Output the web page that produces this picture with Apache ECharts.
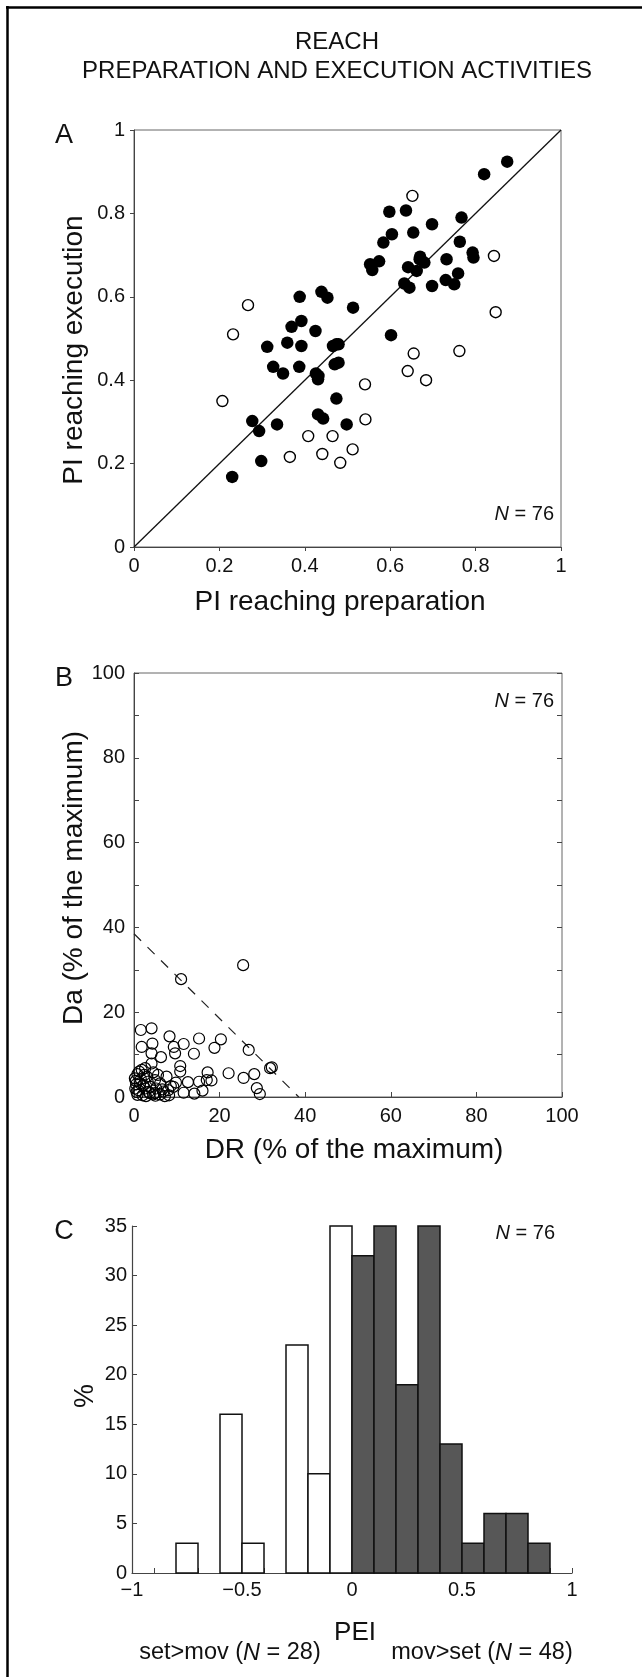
<!DOCTYPE html>
<html>
<head>
<meta charset="utf-8">
<script src="https://cdn.jsdelivr.net/npm/echarts@6.0.0/dist/echarts.min.js"></script>
<style>
html,body{margin:0;padding:0;background:#fff;}
#chart{width:642px;height:1677px;}
</style>
</head>
<body>
<div id="chart"></div>
<script>
// ---------- Panel A data (PI reaching preparation vs execution) ----------
const prepFilled = [0.874,0.820,0.598,0.637,0.604,0.654,0.698,0.767,0.584,0.763,0.553,0.558,0.574,0.670,0.680,0.642,0.662,0.732,0.793,0.795,0.759,0.730,0.750,0.633,0.645,0.698,0.388,0.439,0.453,0.513,0.369,0.392,0.425,0.312,0.359,0.392,0.466,0.479,0.602,0.326,0.349,0.387,0.470,0.479,0.426,0.431,0.474,0.431,0.443,0.498,0.335,0.277,0.293,0.298,0.230,0.432,0.474,0.669];
const execFilled = [0.924,0.894,0.804,0.807,0.750,0.754,0.774,0.790,0.730,0.732,0.678,0.664,0.685,0.696,0.682,0.671,0.662,0.690,0.706,0.694,0.656,0.640,0.630,0.632,0.622,0.626,0.600,0.612,0.598,0.574,0.528,0.542,0.518,0.480,0.490,0.482,0.482,0.486,0.508,0.432,0.416,0.432,0.438,0.442,0.416,0.402,0.356,0.318,0.308,0.294,0.294,0.302,0.278,0.206,0.168,0.410,0.486,0.690];
const prepOpen = [0.652,0.843,0.847,0.267,0.232,0.655,0.762,0.641,0.684,0.541,0.207,0.542,0.408,0.465,0.512,0.365,0.441,0.483];
const execOpen = [0.842,0.698,0.563,0.580,0.510,0.464,0.470,0.422,0.400,0.390,0.350,0.306,0.266,0.266,0.234,0.216,0.223,0.202];

// ---------- Panel B data (DR vs Da, % of the maximum) ----------
const drValues = [1.6,4.1,1.8,4.3,4.1,8.3,9.3,9.6,11.6,6.3,15.2,14.0,18.8,20.3,26.8,32.2,31.8,11.0,25.5,4.1,10.8,10.8,17.2,22.1,25.6,28.1,28.7,29.4,17.0,18.1,15.2,12.6,11.6,14.1,16.0,7.6,8.6,8.0,6.1,7.2,4.9,
  0.2,0.5,0.3,0.8,1.2,1.8,2.4,3.0,1.4,2.6,3.7,0.6,4.9,6.1,6.9,9.2,4.5,2.0,3.2,1.0,2.2,3.8,5.2,5.6,3.4,1.6,0.4,2.8,8.2,6.6,5.0,4.5,2.6,9.8,0.8];
const daValues = [15.8,16.2,11.8,12.6,10.3,14.3,11.8,10.3,12.5,9.4,13.8,10.2,11.6,13.6,11.1,7.0,6.8,27.8,31.1,7.9,7.3,6.0,5.8,5.6,4.5,5.4,2.1,0.7,4.0,3.9,3.6,3.5,1.0,0.8,1.5,4.8,2.6,1.6,0.6,0.2,0.9,
  4.4,3.0,2.0,5.4,6.0,6.4,5.2,4.8,3.2,2.0,0.9,1.2,4.0,3.2,1.3,2.4,0.6,0.4,3.6,1.6,2.8,2.4,2.0,5.2,1.2,4.2,3.8,0.2,0.4,1.8,0.3,5.8,6.8,3.4,0.5];
const dashedLimit = 38.5; // DR + Da = limit line

// ---------- Panel C data (PEI histogram, %) ----------
const peiBinStart = [-0.8,-0.6,-0.5,-0.3,-0.2,-0.1,0.0,0.1,0.2,0.3,0.4,0.5,0.6,0.7,0.8];
const peiPercent  = [3,16,3,23,10,35,32,35,19,35,13,3,6,6,3];
const binWidth = 0.1;

// ---------- styling ----------
const FONT = '"Liberation Sans", Arial, Helvetica, sans-serif';
const INK = '#111';
const AXC = '#444';

const histData = peiBinStart.map((s, i) => [s, s + binWidth, peiPercent[i]]);

function txt(x, y, text, size, opts) {
  opts = opts || {};
  return {
    type: 'text', x: x, y: y, rotation: opts.rotation || 0, silent: true,
    style: {
      text: text, fontSize: size, fontFamily: FONT, fill: INK,
      align: opts.align || 'center', verticalAlign: 'middle',
      textAlign: opts.align || 'center', textVerticalAlign: 'middle'
    }
  };
}
function richText(x, y, text, size, align) {
  return {
    type: 'text', x: x, y: y, silent: true,
    style: {
      text: text, fontSize: size, fontFamily: FONT, fill: INK,
      align: align || 'right', verticalAlign: 'middle',
      textAlign: align || 'right', textVerticalAlign: 'middle',
      rich: {
        i: { fontStyle: 'italic', fontSize: size, fontFamily: FONT, fill: INK },
        r: { fontSize: size, fontFamily: FONT, fill: INK }
      }
    }
  };
}

const axisLabelStyle = { fontSize: 20, fontFamily: FONT, color: INK };

const chart = echarts.init(document.getElementById('chart'), null, { renderer: 'canvas' });
chart.setOption({
  animation: false,
  backgroundColor: '#fff',
  grid: [
    { left: 134, top: 130, width: 427, height: 417, show: true, borderColor: '#666', borderWidth: 1, outerBoundsMode: 'none' },
    { left: 134, top: 673, width: 428, height: 424, show: true, borderColor: '#666', borderWidth: 1, outerBoundsMode: 'none' },
    { left: 132, top: 1226, width: 440, height: 347, show: false, outerBoundsMode: 'none' }
  ],
  xAxis: [
    { gridIndex: 0, type: 'value', min: 0, max: 1, interval: 0.2,
      axisLine: { lineStyle: { color: AXC, width: 1 } },
      axisTick: { inside: false, length: 4, lineStyle: { color: AXC } },
      splitLine: { show: false },
      axisLabel: Object.assign({ margin: 9, formatter: v => String(+v.toFixed(1)) }, axisLabelStyle) },
    { gridIndex: 1, type: 'value', min: 0, max: 100, interval: 20,
      axisLine: { lineStyle: { color: AXC, width: 1 } },
      axisTick: { inside: true, length: 5, lineStyle: { color: AXC } },
      splitLine: { show: false },
      axisLabel: Object.assign({ margin: 9 }, axisLabelStyle) },
    { gridIndex: 2, type: 'value', min: -1, max: 1, interval: 0.5,
      axisLine: { onZero: false, lineStyle: { color: AXC, width: 1.2 } },
      axisTick: { inside: true, length: 5, lineStyle: { color: AXC } },
      minorTick: { show: true, splitNumber: 5, length: 5, lineStyle: { color: AXC } },
      splitLine: { show: false },
      axisLabel: Object.assign({ margin: 7, formatter: v => {
        const r = Math.round(v * 10) / 10;
        return r < 0 ? '\u2212' + String(-r) : String(r);
      } }, axisLabelStyle) }
  ],
  yAxis: [
    { gridIndex: 0, type: 'value', min: 0, max: 1, interval: 0.2,
      axisLine: { lineStyle: { color: AXC, width: 1 } },
      axisTick: { inside: false, length: 4, lineStyle: { color: AXC } },
      splitLine: { show: false },
      axisLabel: Object.assign({ margin: 9, formatter: v => String(+v.toFixed(1)) }, axisLabelStyle) },
    { gridIndex: 1, type: 'value', min: 0, max: 100, interval: 10,
      axisLine: { lineStyle: { color: AXC, width: 1 } },
      axisTick: { inside: true, length: 5, lineStyle: { color: AXC } },
      splitLine: { show: false },
      axisLabel: Object.assign({ margin: 9, formatter: v => (v % 20 === 0 ? String(v) : '') }, axisLabelStyle) },
    { gridIndex: 1, type: 'value', min: 0, max: 100, interval: 10, position: 'right',
      axisLine: { show: false },
      axisTick: { inside: true, length: 5, lineStyle: { color: AXC } },
      splitLine: { show: false },
      axisLabel: { show: false } },
    { gridIndex: 2, type: 'value', min: 0, max: 35, interval: 5,
      axisLine: { show: true, onZero: false, lineStyle: { color: AXC, width: 1.2 } },
      axisTick: { show: true, inside: true, length: 5, lineStyle: { color: AXC } },
      splitLine: { show: false },
      axisLabel: Object.assign({ margin: 5 }, axisLabelStyle) }
  ],
  series: [
    { type: 'line', xAxisIndex: 0, yAxisIndex: 0, data: [[0, 0], [1, 1]], symbol: 'none',
      lineStyle: { color: '#111', width: 1.3 }, silent: true, z: 1 },
    { type: 'scatter', xAxisIndex: 0, yAxisIndex: 0,
      data: prepFilled.map((x, i) => [x, execFilled[i]]),
      symbol: 'circle', symbolSize: 12.5, itemStyle: { color: '#000', opacity: 1 }, silent: true, z: 3 },
    { type: 'scatter', xAxisIndex: 0, yAxisIndex: 0,
      data: prepOpen.map((x, i) => [x, execOpen[i]]),
      symbol: 'circle', symbolSize: 11, itemStyle: { color: 'rgba(255,255,255,0)', borderColor: '#000', borderWidth: 1.4, opacity: 1 }, silent: true, z: 3 },
    { type: 'line', xAxisIndex: 1, yAxisIndex: 1, data: [[0, dashedLimit], [dashedLimit, 0]], symbol: 'none',
      lineStyle: { color: '#222', width: 1.2, type: [10, 9] }, silent: true, z: 1 },
    { type: 'scatter', xAxisIndex: 1, yAxisIndex: 1,
      data: drValues.map((x, i) => [x, daValues[i]]),
      symbol: 'circle', symbolSize: 11, itemStyle: { color: 'rgba(255,255,255,0)', borderColor: '#000', borderWidth: 1.2, opacity: 1 }, silent: true, z: 3 },
    { type: 'custom', xAxisIndex: 2, yAxisIndex: 3, data: histData, silent: true, z: 3,
      renderItem: function (params, api) {
        const a = api.coord([api.value(0), 0]);
        const b = api.coord([api.value(1), api.value(2)]);
        return {
          type: 'rect',
          shape: { x: a[0], y: b[1], width: b[0] - a[0], height: a[1] - b[1] },
          style: { fill: api.value(0) < 0 ? '#ffffff' : '#575757', stroke: '#111', lineWidth: 1.5 }
        };
      } }
  ],
  graphic: [
    { type: 'line', silent: true, shape: { x1: 7.5, y1: 6, x2: 7.5, y2: 1677 }, style: { stroke: '#000', lineWidth: 2.5 } },
    { type: 'line', silent: true, shape: { x1: 6, y1: 7.5, x2: 642, y2: 7.5 }, style: { stroke: '#000', lineWidth: 2.5 } },
    txt(337, 42, 'REACH', 24),
    txt(337, 71, 'PREPARATION AND EXECUTION ACTIVITIES', 24),
    txt(64, 136, 'A', 27),
    txt(64, 679, 'B', 27),
    txt(64, 1232, 'C', 27),
    txt(74, 350, 'PI reaching execution', 28, { rotation: Math.PI / 2 }),
    txt(340, 602, 'PI reaching preparation', 28),
    txt(74, 878, 'Da (% of the maximum)', 28, { rotation: Math.PI / 2 }),
    txt(354, 1150, 'DR (% of the maximum)', 28),
    txt(86, 1396, '%', 27, { rotation: Math.PI / 2 }),
    txt(355, 1633, 'PEI', 26),
    richText(554, 514, '{i|N}{r| = 76}', 20),
    richText(554, 701, '{i|N}{r| = 76}', 20),
    richText(555, 1233, '{i|N}{r| = 76}', 20),
    richText(230, 1653, '{r|set>mov (}{i|N}{r| = 28)}', 23.5, 'center'),
    richText(482, 1653, '{r|mov>set (}{i|N}{r| = 48)}', 23.5, 'center')
  ]
});
</script>
</body>
</html>
